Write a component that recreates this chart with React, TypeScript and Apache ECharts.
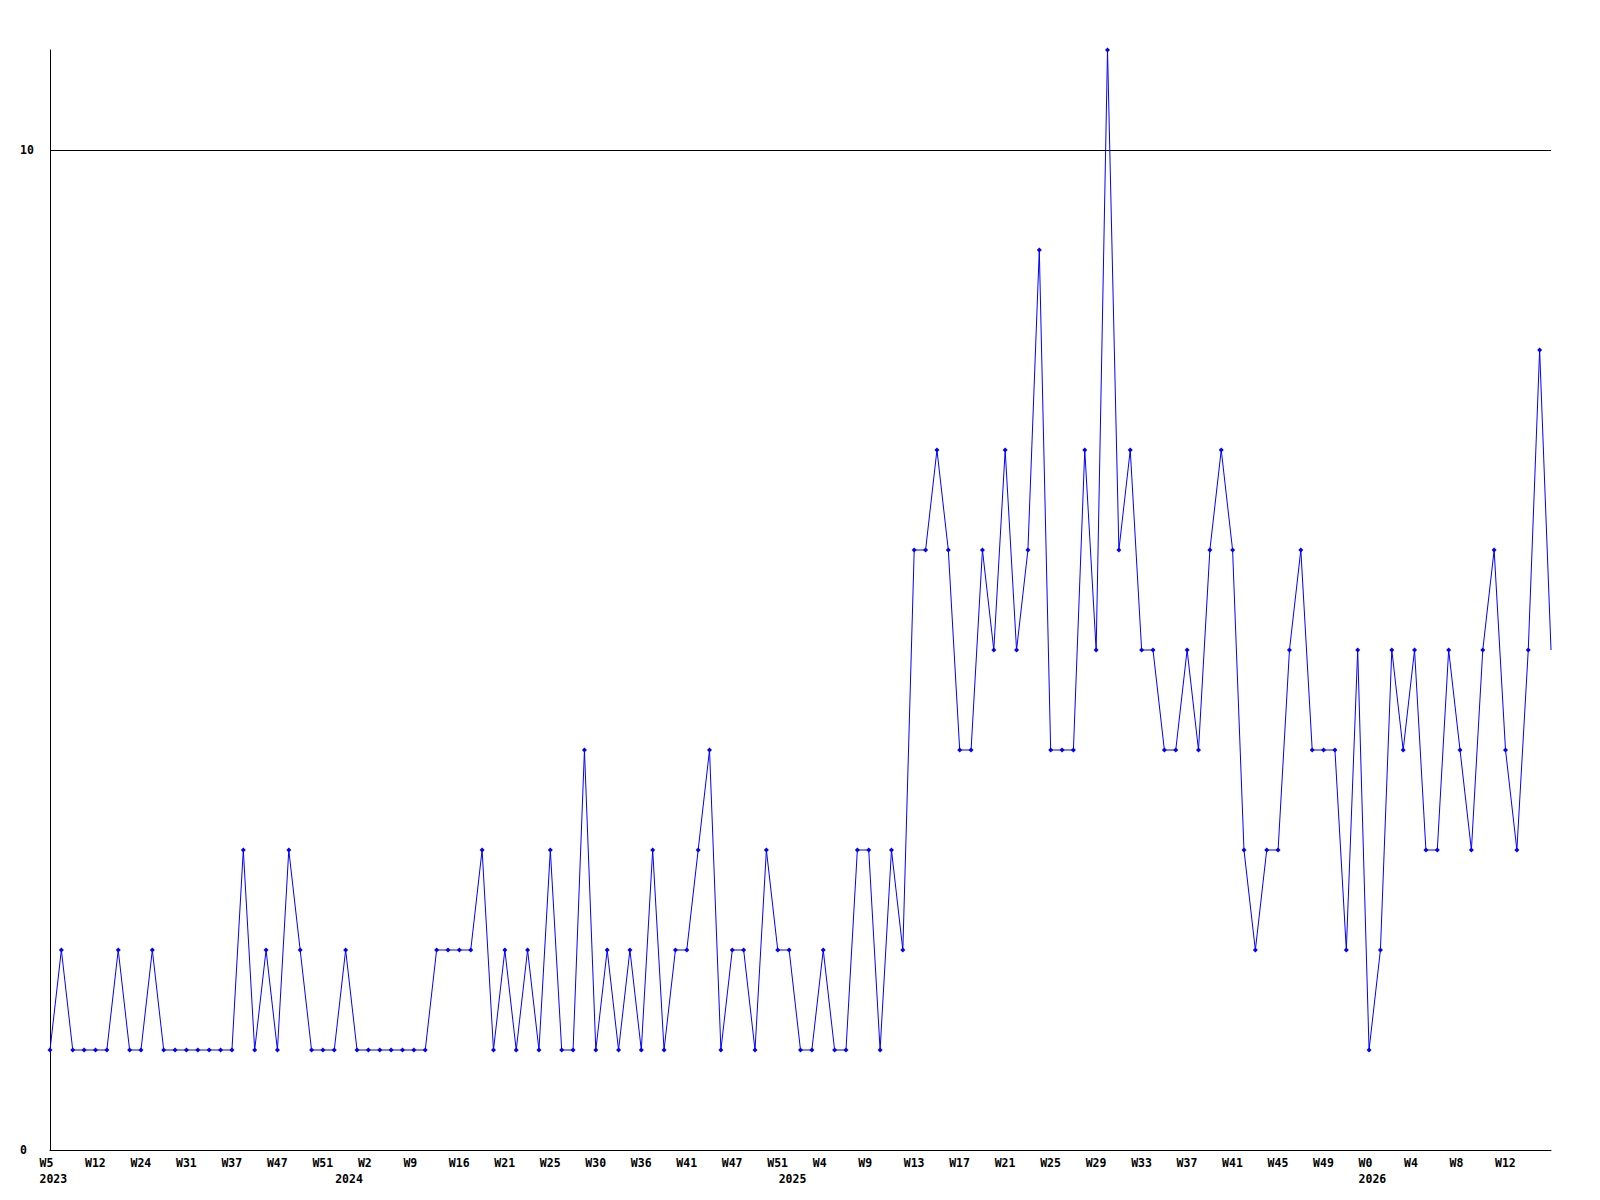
import React, { useEffect, useRef } from 'react';
import * as echarts from 'echarts';

// Week numbers of the points, per year
const years = ['2023', '2024', '2025', '2026'];
const weeks2023 = [5, 7, 8, 10, 12, 15, 18, 21, 24, 26, 28, 30, 31, 33, 34, 36, 37, 39, 42, 44, 47, 48, 49, 50, 51, 52];
const weeks2024 = [0, 1, 2, 4, 6, 7, 9, 11, 13, 14, 16, 17, 18, 19, 21, 22, 23, 24, 25, 26, 28, 29, 30, 32, 33, 35, 36, 37, 38, 40, 41, 43, 44, 45, 47, 48, 49, 50, 51];
const weeks2025 = [1, 2, 3, 4, 6, 7, 8, 9, 10, 11, 12, 13, 14, 15, 16, 17, 18, 19, 20, 21, 22, 23, 24, 25, 26, 27, 28, 29, 30, 31, 32, 33, 34, 35, 36, 37, 38, 39, 40, 41, 42, 43, 44, 45, 46, 47, 48, 49, 50, 51, 52];
const weeks2026 = [0, 1, 2, 3, 4, 5, 6, 7, 8, 9, 10, 11, 12, 13, 14, 15, 16];

// Series values
const values = [
  1, 2, 1, 1, 1, 1, 2, 1, 1, 2, 1, 1, 1, 1, 1, 1, 1, 3, 1, 2, 1, 3, 2, 1, 1, 1, 2, 1, 1, 1, 1, 1, 1, 1, 2, 2, 2,
  2, 3, 1, 2, 1, 2, 1, 3, 1, 1, 4, 1, 2, 1, 2, 1, 3, 1, 2, 2, 3, 4, 1, 2, 2, 1, 3, 2, 2, 1, 1, 2, 1, 1, 3,
  3, 1, 3, 2, 6, 6, 7, 6, 4, 4, 6, 5, 7, 5, 6, 9, 4, 4, 4, 7, 5, 11, 6, 7, 5, 5, 4, 4, 5, 4, 6, 7, 6,
  3, 2, 3, 3, 5, 6, 4, 4, 4, 2, 5, 1, 2, 5, 4, 5, 3, 3, 5, 4, 3, 5, 6, 4, 3, 5, 8, 5,
];

// Y axis
const yMin = 0;
const yMax = 11;
const yInterval = 10;
const yLabelValues = [0, 10];
const weekLabelEvery = 4;

const weeksByYear = [weeks2023, weeks2024, weeks2025, weeks2026];
const categories: string[] = years.flatMap((y, i) => weeksByYear[i].map((w) => `${y}-W${w}`));

const yearOf = (c: string) => c.split('-')[0];
const isYearStart = (i: number) => i === 0 || yearOf(categories[i - 1]) !== yearOf(categories[i]);
const showWeek = (i: number) => i % weekLabelEvery === 0 && i < categories.length - 1;

const FONT = '"DejaVu Sans Mono", "Liberation Mono", monospace';
const BLUE = '#0000ff';

export default function App() {
  const ref = useRef<HTMLDivElement>(null);

  useEffect(() => {
    if (!ref.current) return;
    const chart = echarts.init(ref.current, undefined, { renderer: 'svg' });
    const labelText = {
      fontFamily: FONT,
      fontWeight: 'bold' as const,
      fontSize: 11.5,
      color: '#000',
    };
    chart.setOption({
      animation: false,
      backgroundColor: '#ffffff',
      grid: [
        { left: 50, right: 49, top: 50, bottom: 50 },
        { left: 39.5, right: 59.5, top: 50, bottom: 50 },
      ],
      xAxis: [
        {
          type: 'category',
          gridIndex: 0,
          data: categories,
          boundaryGap: false,
          axisLine: { show: true, lineStyle: { color: '#000', width: 1 } },
          axisTick: { show: false },
          axisLabel: { show: false },
          splitLine: { show: false },
        },
        {
          type: 'category',
          gridIndex: 1,
          data: categories,
          boundaryGap: false,
          axisLine: { show: false },
          axisTick: { show: false },
          splitLine: { show: false },
          axisLabel: {
            ...labelText,
            align: 'left',
            margin: 5,
            lineHeight: 16,
            interval: (i: number) => showWeek(i) || isYearStart(i),
            formatter: (value: string, i: number) => {
              const wk = showWeek(i) ? value.split('-')[1] : '';
              return isYearStart(i) ? `${wk}\n${yearOf(value)}` : wk;
            },
          },
        },
      ],
      yAxis: [
        {
          type: 'value',
          gridIndex: 0,
          min: yMin,
          max: yMax,
          interval: yInterval,
          axisLine: { show: true, lineStyle: { color: '#000', width: 1 } },
          axisTick: { show: false },
          axisLabel: {
            ...labelText,
            align: 'left',
            margin: 30,
            formatter: (v: number) => (yLabelValues.includes(v) ? String(v) : ''),
          },
          splitLine: {
            show: true,
            showMinLine: false,
            showMaxLine: false,
            lineStyle: { color: '#000', width: 1 },
          },
        },
        { type: 'value', gridIndex: 1, show: false },
      ],
      series: [
        {
          type: 'line',
          xAxisIndex: 0,
          yAxisIndex: 0,
          data: values.map((v, i) => (i === values.length - 1 ? { value: v, symbol: 'none' } : v)),
          symbol: 'diamond',
          symbolSize: 5,
          showAllSymbol: true,
          lineStyle: { color: BLUE, width: 1 },
          itemStyle: { color: BLUE },
          emphasis: { disabled: true },
          silent: true,
        },
      ],
    });
    return () => chart.dispose();
  }, []);

  return (
    <div
      ref={ref}
      style={{ position: 'absolute', left: 0, top: 0, width: 1600, height: 1200, background: '#fff' }}
    />
  );
}
